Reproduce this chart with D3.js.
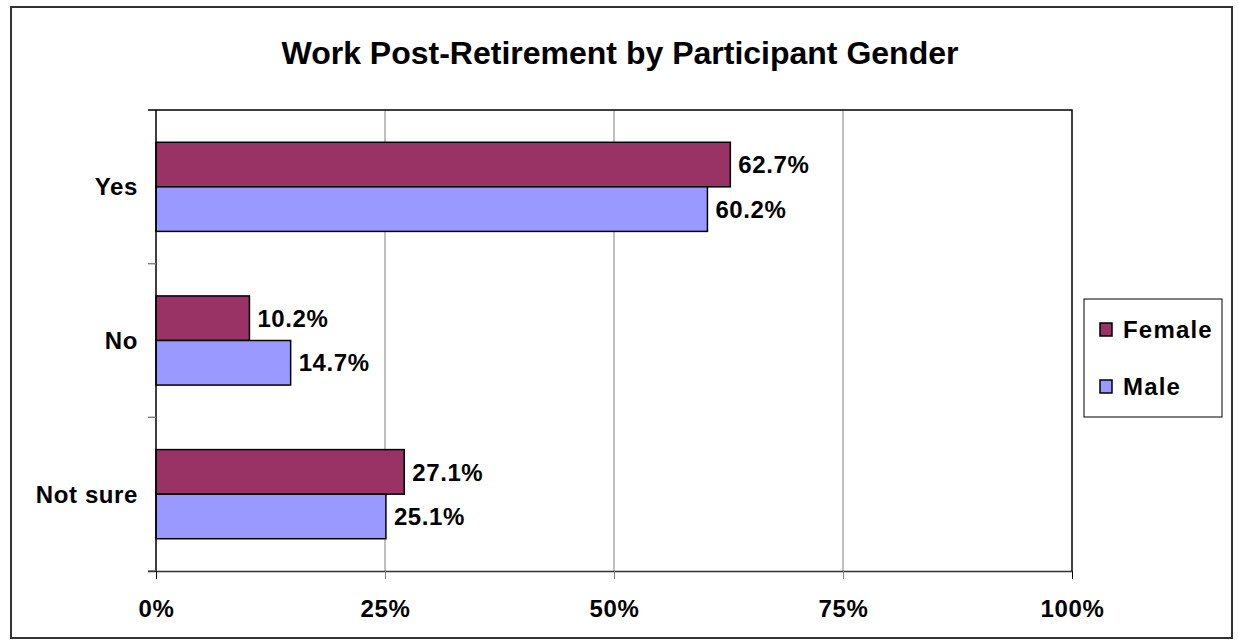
<!DOCTYPE html>
<html>
<head>
<meta charset="utf-8">
<script src="https://cdn.jsdelivr.net/npm/d3@7"></script>
<style>
  html, body { margin: 0; padding: 0; background: #fff; }
  svg { display: block; font-family: "Liberation Sans", Arial, sans-serif; }
</style>
</head>
<body>
<svg id="chart" width="1238" height="644"></svg>
<script>
// Survey answers and share of respondents by gender (percent)
const categories = ["Yes", "No", "Not sure"];
const seriesNames = ["Female", "Male"];
const femaleValues = [62.7, 10.2, 27.1];
const maleValues = [60.2, 14.7, 25.1];
const xTicks = [0, 25, 50, 75, 100];
const colors = ["#993366", "#9999FF"];
const titleText = "Work Post-Retirement by Participant Gender";

const series = [femaleValues, maleValues];

const svg = d3.select("#chart");
const plot = { left: 156, right: 1072, top: 110, bottom: 571 };
const labelFont = 24;

// Outer frame
svg.append("rect")
  .attr("x", 11).attr("y", 7)
  .attr("width", 1221).attr("height", 631)
  .attr("fill", "#fff")
  .attr("stroke", "#333").attr("stroke-width", 2);

// Title
svg.append("text")
  .attr("x", 620).attr("y", 64)
  .attr("text-anchor", "middle")
  .attr("font-size", 32).attr("font-weight", "bold")
  .attr("fill", "#000")
  .text(titleText);

const x = d3.scaleLinear().domain([0, 100]).range([plot.left, plot.right]);
const y = d3.scaleBand().domain(categories)
  .range([plot.top, plot.bottom])
  .paddingInner(0.42).paddingOuter(0.21);
const ySub = d3.scaleBand().domain(d3.range(series.length))
  .range([0, y.bandwidth()]);

// Vertical gridlines
svg.append("g").selectAll("line")
  .data(xTicks.filter(t => t > 0 && t < 100))
  .join("line")
  .attr("x1", d => x(d)).attr("x2", d => x(d))
  .attr("y1", plot.top).attr("y2", plot.bottom)
  .attr("stroke", "#808080").attr("stroke-width", 1);

// Plot area top and right edges
svg.append("path")
  .attr("d", `M${plot.left},${plot.top}H${plot.right}V${plot.bottom}`)
  .attr("fill", "none").attr("stroke", "#000").attr("stroke-width", 1.5);

// Bars
const groups = svg.append("g").selectAll("g")
  .data(categories)
  .join("g")
  .attr("transform", d => `translate(0,${y(d)})`);

groups.selectAll("rect")
  .data((d, i) => series.map((s, k) => ({ k, v: s[i] })))
  .join("rect")
  .attr("x", x(0))
  .attr("y", d => ySub(d.k))
  .attr("width", d => x(d.v) - x(0))
  .attr("height", ySub.bandwidth())
  .attr("fill", d => colors[d.k])
  .attr("stroke", "#000").attr("stroke-width", 1.5);

// Value labels
groups.selectAll("text")
  .data((d, i) => series.map((s, k) => ({ k, v: s[i] })))
  .join("text")
  .attr("x", d => x(d.v) + 8)
  .attr("y", d => ySub(d.k) + ySub.bandwidth() / 2)
  .attr("dy", "0.36em")
  .attr("font-size", labelFont).attr("font-weight", "bold")
  .attr("letter-spacing", 0.6)
  .attr("fill", "#000")
  .text(d => d.v.toFixed(1) + "%");

// Category axis (left)
const yAxisG = svg.append("g").attr("transform", `translate(${plot.left},0)`);
yAxisG.append("line")
  .attr("x1", 0).attr("x2", 0)
  .attr("y1", plot.top).attr("y2", plot.bottom)
  .attr("stroke", "#000").attr("stroke-width", 1.5);
const catBounds = categories.map(c => y(c) - y.step() * y.paddingInner() / 2)
  .concat([plot.bottom]);
catBounds[0] = plot.top;
yAxisG.selectAll("line.tick")
  .data(catBounds)
  .join("line").attr("class", "tick")
  .attr("x1", -8).attr("x2", 0)
  .attr("y1", d => d).attr("y2", d => d)
  .attr("stroke", (d, i) => (i === 0 ? "#000" : "#808080"))
  .attr("stroke-width", 1.5);
yAxisG.selectAll("text")
  .data(categories)
  .join("text")
  .attr("x", -18)
  .attr("y", d => y(d) + y.bandwidth() / 2)
  .attr("dy", "0.36em")
  .attr("text-anchor", "end")
  .attr("font-size", labelFont).attr("font-weight", "bold")
  .attr("letter-spacing", 0.6)
  .attr("fill", "#000")
  .text(d => d);

// Value axis (bottom)
const xAxis = d3.axisBottom(x)
  .tickValues(xTicks)
  .tickFormat(d => d + "%")
  .tickSize(8).tickSizeOuter(0);
const xAxisG = svg.append("g")
  .attr("transform", `translate(0,${plot.bottom})`)
  .call(xAxis);
xAxisG.select(".domain")
  .attr("d", `M${plot.left - 8},0.5H${plot.right}`)
  .attr("stroke", "#333").attr("stroke-width", 1.5);
xAxisG.selectAll(".tick line").attr("stroke", d => (d === 0 || d === 100) ? "#000" : "#808080");
xAxisG.selectAll(".tick text")
  .attr("y", 29)
  .attr("font-size", labelFont).attr("font-weight", "bold")
  .attr("letter-spacing", 0.6)
  .attr("font-family", "Liberation Sans, Arial, sans-serif")
  .attr("fill", "#000");

// Legend
const legend = svg.append("g").attr("transform", "translate(1084,299)");
legend.append("rect")
  .attr("width", 138).attr("height", 118)
  .attr("fill", "#fff").attr("stroke", "#000").attr("stroke-width", 1);
const legendItems = legend.selectAll("g.item")
  .data(seriesNames)
  .join("g").attr("class", "item")
  .attr("transform", (d, i) => `translate(16,${24 + i * 57})`);
legendItems.append("rect")
  .attr("width", 12).attr("height", 13)
  .attr("fill", (d, i) => colors[i])
  .attr("stroke", "#000").attr("stroke-width", 1.5);
legendItems.append("text")
  .attr("x", 23).attr("y", 6.5)
  .attr("dy", "0.36em")
  .attr("font-size", labelFont).attr("font-weight", "bold")
  .attr("letter-spacing", 1.2)
  .attr("fill", "#000")
  .text(d => d);
</script>
</body>
</html>
